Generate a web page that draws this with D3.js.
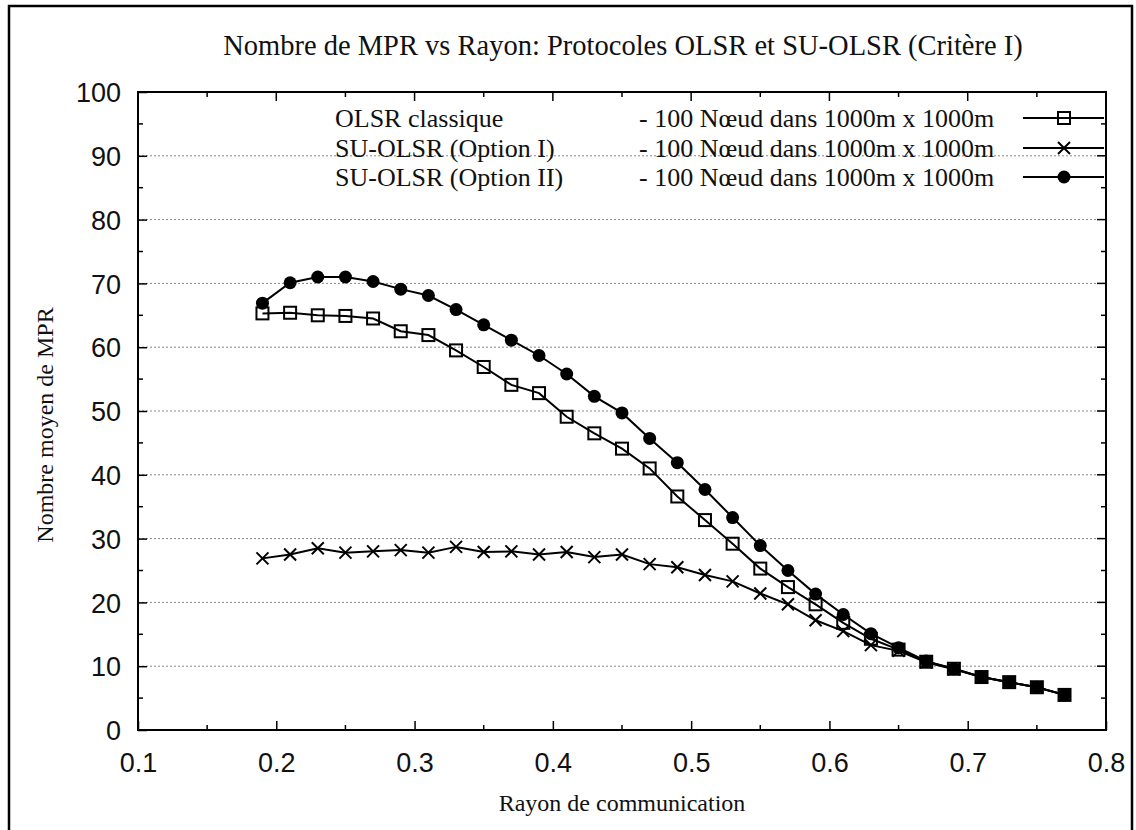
<!DOCTYPE html>
<html>
<head>
<meta charset="utf-8">
<script src="https://cdn.jsdelivr.net/npm/d3@7"></script>
<style>
  body { margin: 0; background: #fff; }
  svg { display: block; }
  .serif { font-family: "Liberation Serif", "DejaVu Serif", serif; fill: #111; }
  .axis text { font-family: "Liberation Sans", Arial, sans-serif; font-size: 27px; fill: #111; }
</style>
</head>
<body>
<svg id="chart"></svg>
<script>
// Données
const rayons = [0.19, 0.21, 0.23, 0.25, 0.27, 0.29, 0.31, 0.33, 0.35, 0.37,
                0.39, 0.41, 0.43, 0.45, 0.47, 0.49, 0.51, 0.53, 0.55, 0.57,
                0.59, 0.61, 0.63, 0.65, 0.67, 0.69, 0.71, 0.73, 0.75, 0.77];
const olsrClassique = [65.3, 65.4, 65.0, 64.9, 64.5, 62.5, 61.9, 59.5, 56.9, 54.1,
                       52.8, 49.1, 46.5, 44.1, 41.0, 36.6, 32.9, 29.2, 25.3, 22.4,
                       19.7, 16.8, 14.3, 12.6, 10.7, 9.6, 8.3, 7.5, 6.7, 5.5];
const suOlsrOpt1 = [26.9, 27.5, 28.5, 27.8, 28.0, 28.2, 27.8, 28.7, 27.9, 28.0,
                    27.5, 27.9, 27.1, 27.5, 26.0, 25.5, 24.3, 23.3, 21.4, 19.7,
                    17.2, 15.5, 13.3, 12.4, 10.6, 9.5, 8.3, 7.5, 6.7, 5.5];
const suOlsrOpt2 = [66.9, 70.1, 71.0, 71.0, 70.3, 69.1, 68.1, 65.9, 63.5, 61.1,
                    58.7, 55.8, 52.3, 49.7, 45.7, 41.9, 37.7, 33.3, 28.9, 25.0,
                    21.3, 18.1, 15.1, 12.9, 10.8, 9.6, 8.3, 7.5, 6.7, 5.5];
const seriesNames = ["OLSR classique", "SU-OLSR (Option I)", "SU-OLSR (Option II)"];
const seriesSymbols = ["square", "cross", "circle"];
const legendSuffix = "- 100 Nœud dans 1000m x 1000m";
const xTicks = [0.1, 0.2, 0.3, 0.4, 0.5, 0.6, 0.7, 0.8];
const yTicks = [0, 10, 20, 30, 40, 50, 60, 70, 80, 90, 100];

const W = 1136, H = 830;
const margin = { left: 138, right: W - 1106, top: 92, bottom: H - 730 };
const iw = W - margin.left - margin.right;
const ih = H - margin.top - margin.bottom;

const svg = d3.select("#chart").attr("width", W).attr("height", H);

// cadre extérieur
svg.append("rect")
    .attr("x", 9).attr("y", 6)
    .attr("width", 1123).attr("height", 830)
    .attr("fill", "none").attr("stroke", "#000").attr("stroke-width", 2.5);

const x = d3.scaleLinear().domain([0.1, 0.8]).range([0, iw]);
const y = d3.scaleLinear().domain([0, 100]).range([ih, 0]);

const g = svg.append("g").attr("transform", `translate(${margin.left},${margin.top})`);

// grille horizontale pointillée
g.append("g")
    .selectAll("line")
    .data(yTicks.filter(d => d > 0 && d < 100))
    .enter().append("line")
    .attr("x1", 0).attr("x2", iw)
    .attr("y1", d => y(d)).attr("y2", d => y(d))
    .attr("stroke", "#888").attr("stroke-width", 1)
    .attr("stroke-dasharray", "2,2");

// axes (graduations vers l'intérieur, comme gnuplot)
const minorX = d3.range(0.15, 0.8, 0.1);
const minorY = d3.range(5, 100, 10);

g.append("g").attr("class", "axis")
    .attr("transform", `translate(0,${ih})`)
    .call(d3.axisBottom(x).tickValues(xTicks).tickFormat(d3.format(".1f")).tickSizeInner(-9).tickSizeOuter(0).tickPadding(23))
    .call(a => a.select(".domain").remove());
g.append("g").attr("class", "axis")
    .call(d3.axisLeft(y).tickValues(yTicks).tickSizeInner(-9).tickSizeOuter(0).tickPadding(17))
    .call(a => a.select(".domain").remove())
    .call(a => a.selectAll("text").attr("dy", "0.36em"));

// graduations mineures et miroirs
const ticks = g.append("g").attr("stroke", "#000").attr("stroke-width", 1.5);
xTicks.forEach(v => {
    ticks.append("line").attr("x1", x(v)).attr("x2", x(v)).attr("y1", 0).attr("y2", 9);
});
minorX.forEach(v => {
    ticks.append("line").attr("x1", x(v)).attr("x2", x(v)).attr("y1", ih).attr("y2", ih - 5);
    ticks.append("line").attr("x1", x(v)).attr("x2", x(v)).attr("y1", 0).attr("y2", 5);
});
yTicks.forEach(v => {
    ticks.append("line").attr("x1", iw).attr("x2", iw - 9).attr("y1", y(v)).attr("y2", y(v));
});
minorY.forEach(v => {
    ticks.append("line").attr("x1", 0).attr("x2", 5).attr("y1", y(v)).attr("y2", y(v));
    ticks.append("line").attr("x1", iw).attr("x2", iw - 5).attr("y1", y(v)).attr("y2", y(v));
});
g.selectAll(".axis .tick line").attr("stroke-width", 1.5);

g.append("rect")
    .attr("width", iw).attr("height", ih)
    .attr("fill", "none").attr("stroke", "#000").attr("stroke-width", 2);

// symboles
function drawSymbol(sel, type, cx, cy) {
    if (type === "square") {
        sel.append("rect")
            .attr("x", cx - 6).attr("y", cy - 6).attr("width", 12).attr("height", 12)
            .attr("fill", "none").attr("stroke", "#000").attr("stroke-width", 2);
    } else if (type === "cross") {
        sel.append("path")
            .attr("d", `M${cx - 6},${cy - 6}L${cx + 6},${cy + 6}M${cx - 6},${cy + 6}L${cx + 6},${cy - 6}`)
            .attr("stroke", "#000").attr("stroke-width", 2);
    } else {
        sel.append("circle").attr("cx", cx).attr("cy", cy).attr("r", 6.5).attr("fill", "#000");
    }
}

const allSeries = [olsrClassique, suOlsrOpt1, suOlsrOpt2];
const line = d3.line().x((d, i) => x(rayons[i])).y(d => y(d));

allSeries.forEach((vals, k) => {
    const sg = g.append("g");
    sg.append("path")
        .datum(vals)
        .attr("d", line)
        .attr("fill", "none").attr("stroke", "#000").attr("stroke-width", 2);
    vals.forEach((v, i) => drawSymbol(sg, seriesSymbols[k], x(rayons[i]), y(v)));
});

// légende
const legendY = [118, 148, 177];
seriesNames.forEach((name, k) => {
    svg.append("text").attr("class", "serif")
        .attr("x", 335).attr("y", legendY[k]).attr("dy", "0.33em")
        .attr("font-size", 26).text(name);
    svg.append("text").attr("class", "serif")
        .attr("x", 639).attr("y", legendY[k]).attr("dy", "0.33em")
        .attr("font-size", 26).text(legendSuffix);
    svg.append("line")
        .attr("x1", 1023).attr("x2", 1104).attr("y1", legendY[k]).attr("y2", legendY[k])
        .attr("stroke", "#000").attr("stroke-width", 2);
    drawSymbol(svg, seriesSymbols[k], 1064, legendY[k]);
});

// titres
svg.append("text").attr("class", "serif")
    .attr("x", 623).attr("y", 55).attr("text-anchor", "middle")
    .attr("font-size", 28.5)
    .text("Nombre de MPR vs Rayon: Protocoles OLSR et SU-OLSR (Critère I)");
svg.append("text").attr("class", "serif")
    .attr("x", 622).attr("y", 811).attr("text-anchor", "middle")
    .attr("font-size", 24)
    .text("Rayon de communication");
svg.append("text").attr("class", "serif")
    .attr("transform", "translate(53,425) rotate(-90)")
    .attr("text-anchor", "middle")
    .attr("font-size", 24)
    .text("Nombre moyen de MPR");
</script>
</body>
</html>
